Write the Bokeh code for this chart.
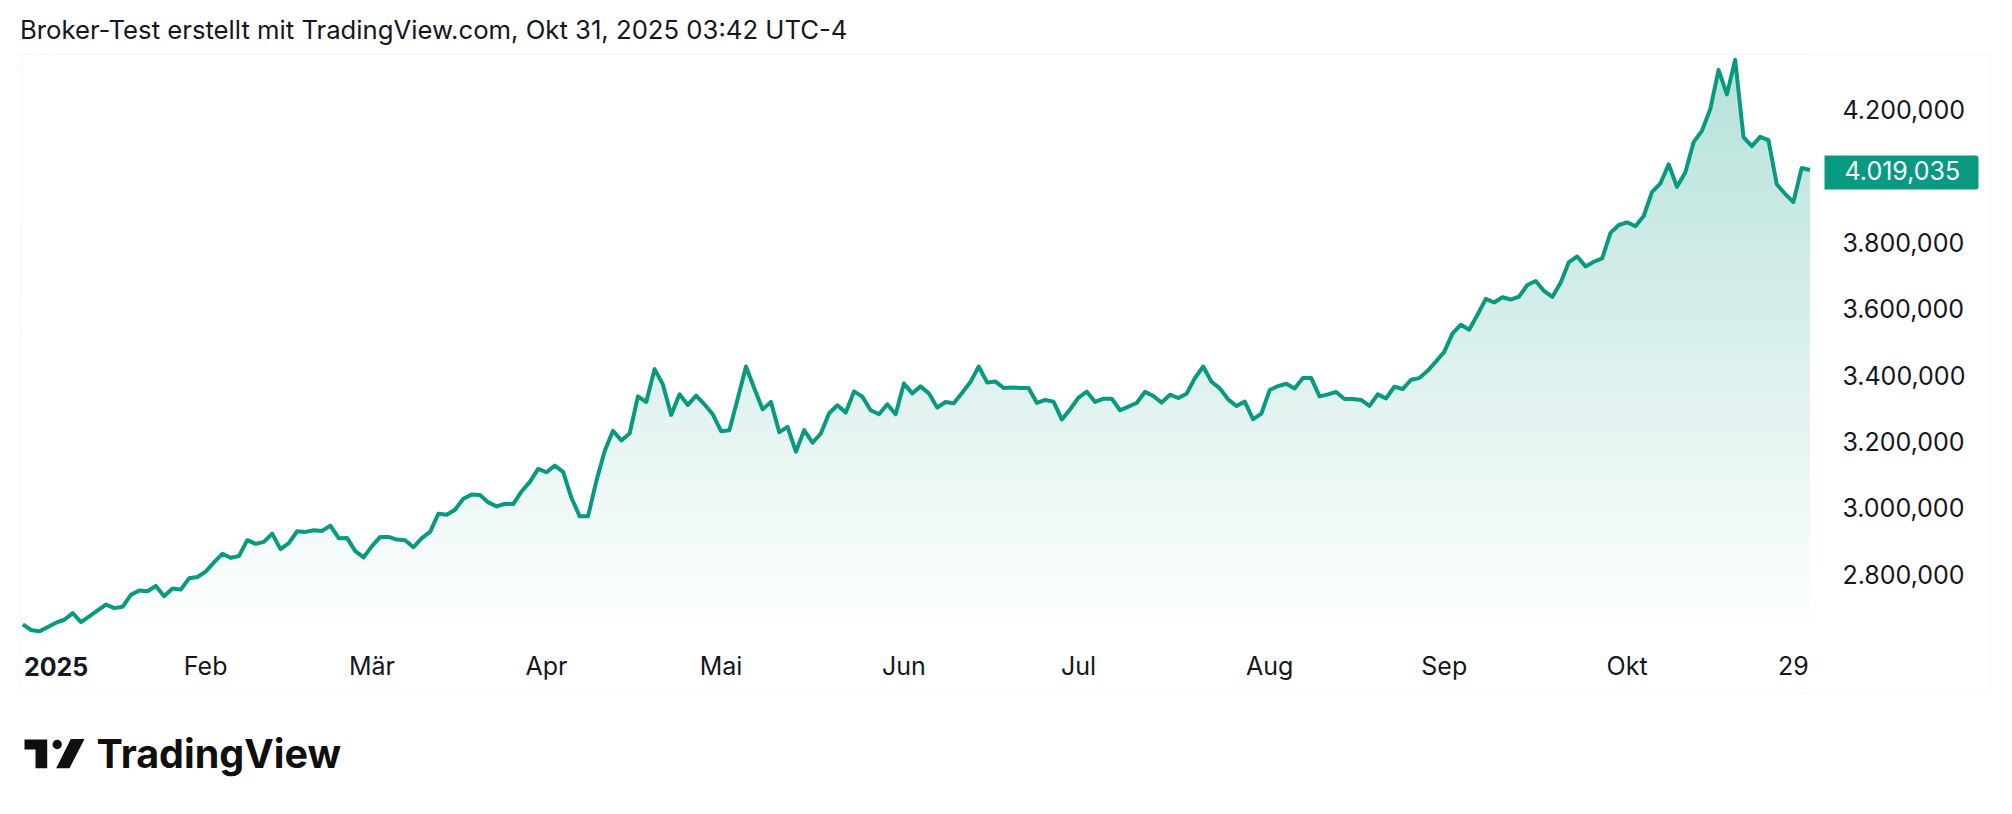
"""
Broker-Test chart, TradingView style area plot rebuilt with Bokeh.
"""
import numpy as np
from bokeh.plotting import figure
from bokeh.models import BoxAnnotation, FixedTicker, Label, LinearAxis, PolyAnnotation, Range1d
from bokeh.embed import file_html
from bokeh.resources import INLINE

# daily closes in thousands
values = [
    2648, 2631, 2627, 2640, 2653, 2662, 2682, 2655, 2672, 2690, 2708, 2697, 2701, 2737, 2750, 2748,
    2764, 2733, 2756, 2753, 2787, 2791, 2807, 2835, 2861, 2849, 2854, 2902, 2891, 2897, 2922, 2875,
    2893, 2929, 2927, 2932, 2930, 2946, 2908, 2909, 2869, 2850, 2884, 2912, 2912, 2904, 2902, 2881,
    2908, 2927, 2982, 2979, 2994, 3027, 3040, 3038, 3016, 3004, 3012, 3011, 3049, 3078, 3117, 3107,
    3127, 3108, 3030, 2974, 2974, 3081, 3171, 3232, 3203, 3224, 3336, 3319, 3418, 3372, 3280, 3342,
    3310, 3338, 3312, 3282, 3231, 3234, 3329, 3426, 3360, 3297, 3319, 3228, 3244, 3169, 3234, 3196,
    3224, 3285, 3309, 3287, 3351, 3335, 3294, 3282, 3312, 3282, 3375, 3345, 3366, 3345, 3302, 3319,
    3315, 3347, 3379, 3426, 3378, 3381, 3361, 3363, 3361, 3361, 3316, 3325, 3320, 3266, 3297, 3332,
    3350, 3319, 3329, 3329, 3294, 3305, 3316, 3350, 3337, 3317, 3341, 3331, 3344, 3391, 3426, 3380,
    3360, 3327, 3307, 3320, 3267, 3284, 3355, 3367, 3374, 3360, 3391, 3391, 3336, 3342, 3349, 3328,
    3328, 3325, 3307, 3342, 3330, 3365, 3358, 3386, 3391, 3413, 3441, 3470, 3526, 3552, 3537, 3582,
    3630, 3619, 3635, 3628, 3637, 3672, 3684, 3654, 3636, 3679, 3741, 3758, 3728, 3742, 3752, 3829,
    3853, 3861, 3849, 3880, 3953, 3978, 4036, 3968, 4011, 4103, 4137, 4202, 4321, 4247, 4351, 4118,
    4091, 4119, 4109, 3976, 3947, 3922, 4025, 4019,
]
x_ticks = [22, 42, 63, 84, 106, 127, 150, 171, 193, 213]
x_tick_labels = ["Feb", "Mär", "Apr", "Mai", "Jun", "Jul", "Aug", "Sep", "Okt", "29"]
year_tick = 4
year_label = "2025"
y_ticks = [2800, 3000, 3200, 3400, 3600, 3800, 4200]
y_tick_labels = ["2.800,000", "3.000,000", "3.200,000", "3.400,000", "3.600,000", "3.800,000", "4.200,000"]
last_label = "4.019,035"
title = "Broker-Test erstellt mit TradingView.com, Okt 31, 2025 03:42 UTC-4"

GREEN = "#089981"
TEXT = "#131722"
LOGO = "#0f0f0f"
FONT = "Inter"
TICK_SIZE = "25px"

days = list(range(len(values)))
fill_low, fill_high = 2599, 4367

# the frame is the whole canvas, so header, footer and tags can sit inside it without clipping
p = figure(width=2004, height=806, output_backend="svg", toolbar_location=None,
           x_range=Range1d(-2.683, 238.4), y_range=Range1d(2098.6, 4530.2),
           x_axis_location=None, y_axis_location=None,
           min_border_left=0, min_border_right=0, min_border_top=0, min_border_bottom=0)
p.grid.visible = False
p.outline_line_color = None

# vertical fade under the line: paint a gradient, then white out everything above the line
alpha = np.linspace(0.0, 0.30, 256)
rgba = np.zeros((256, 1), dtype=np.uint32)
view = rgba.view(dtype=np.uint8).reshape((256, 1, 4))
view[:, 0, 0] = 8
view[:, 0, 1] = 153
view[:, 0, 2] = 129
view[:, 0, 3] = (alpha * 255).astype(np.uint8)
p.image_rgba(image=[rgba], x=0, y=fill_low, dw=days[-1], dh=fill_high - fill_low)
p.varea(x=days, y1=values, y2=fill_high, color="white")
p.line(days, values, line_color=GREEN, line_width=4, line_join="round")

x_axis = LinearAxis(ticker=FixedTicker(ticks=x_ticks), fixed_location=fill_low,
                    major_label_overrides=dict(zip(x_ticks, x_tick_labels)))
y_axis = LinearAxis(ticker=FixedTicker(ticks=y_ticks), fixed_location=215.65,
                    major_label_overrides=dict(zip(y_ticks, y_tick_labels)))
for axis in (x_axis, y_axis):
    axis.axis_line_color = None
    axis.major_tick_line_color = None
    axis.minor_tick_line_color = None
    axis.major_label_text_font = FONT
    axis.major_label_text_font_size = TICK_SIZE
    axis.major_label_text_color = TEXT
x_axis.major_label_standoff = 4
y_axis.major_label_standoff = 21
p.add_layout(x_axis, "below")
p.add_layout(y_axis, "right")


def screen_box(**kw):
    return BoxAnnotation(left_units="screen", right_units="screen", top_units="screen",
                         bottom_units="screen", **kw)


p.add_layout(Label(x=19.5, y=777, x_units="screen", y_units="screen", text=title, text_font=FONT,
                   text_font_size="25.7px", text_color=TEXT, text_baseline="middle"))

# outer frame of the widget
p.add_layout(screen_box(left=20, right=1990, top=752, bottom=113,
                        fill_color=None, line_color="#f2f3f5", line_width=2))

p.add_layout(Label(x=year_tick, y=140, y_units="screen", text=year_label, text_font=FONT,
                   text_font_size=TICK_SIZE, text_font_style="bold", text_color=TEXT,
                   text_align="center", text_baseline="middle"))

# last price tag
p.add_layout(screen_box(left=1824, right=1978, top=651, bottom=617,
                        fill_color=GREEN, fill_alpha=1, line_color=None,
                        border_radius=dict(top_left=0, top_right=3, bottom_right=3, bottom_left=0)))
p.add_layout(Label(x=1844, y=636, x_units="screen", y_units="screen", text=last_label, text_font=FONT,
                   text_font_size=TICK_SIZE, text_color="white", text_baseline="middle"))

# logo
p.add_layout(PolyAnnotation(xs=[24, 46.7, 46.7, 35, 35, 24], ys=[67, 67, 38.3, 38.3, 57, 57],
                            xs_units="screen", ys_units="screen",
                            fill_color=LOGO, fill_alpha=1, line_color=None))
p.add_layout(screen_box(left=52, right=61.4, top=66.7, bottom=57.3,
                        fill_color=LOGO, fill_alpha=1, line_color=None, border_radius=5))
p.add_layout(PolyAnnotation(xs=[70.3, 84, 69, 55.7], ys=[67.5, 67.5, 38.3, 38.3],
                            xs_units="screen", ys_units="screen",
                            fill_color=LOGO, fill_alpha=1, line_color=None))
p.add_layout(Label(x=96, y=53, x_units="screen", y_units="screen", text="TradingView", text_font=FONT,
                   text_font_size="39.5px", text_font_style="bold", text_color=LOGO,
                   text_baseline="alphabetic"))

open("out.html", "w").write(file_html(p, INLINE))
